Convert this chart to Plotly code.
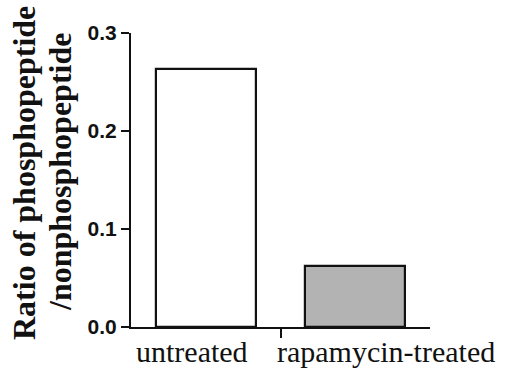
import plotly.graph_objects as go

categories = ["untreated", "rapamycin-treated"]
values = [0.263, 0.062]
bar_colors = ["#ffffff", "#b3b3b3"]
y_ticks = [0.0, 0.1, 0.2, 0.3]
y_tick_labels = ["0.0", "0.1", "0.2", "0.3"]
title_lines = ["Ratio of phosphopeptide", "/nonphosphopeptide"]

xpos = list(range(len(categories)))

fig = go.Figure()
fig.add_trace(go.Bar(
    x=xpos, y=values, width=0.67,
    marker=dict(color=bar_colors, line=dict(color="#111111", width=2.2)),
    showlegend=False, hoverinfo="skip",
))

label_shifts = [-14, 31]
for xi, name, sh in zip(xpos, categories, label_shifts):
    fig.add_annotation(
        x=xi, xref="x", y=0, yref="paper", yanchor="top", yshift=-6,
        xshift=sh, text=name, showarrow=False,
        font=dict(family="Liberation Serif, Times New Roman, serif", size=30, color="#111111"),
    )

for line, xs, ys in zip(title_lines, [-107, -71], [7, 8]):
    fig.add_annotation(
        x=0, xref="paper", y=0.5, yref="paper", xanchor="center", yanchor="middle",
        xshift=xs, yshift=ys, textangle=-90,
        text="<b>%s</b>" % line,
        showarrow=False,
        font=dict(family="Liberation Serif, Times New Roman, serif", size=32, color="#111111"),
    )

fig.update_layout(
    width=510, height=380,
    margin=dict(l=131, r=80, t=33, b=53),
    paper_bgcolor="white", plot_bgcolor="white",
    xaxis=dict(
        range=[-0.5, 1.5], tickvals=[0.5], ticktext=[""],
        ticks="outside", ticklen=9, tickwidth=2, tickcolor="#111111",
        showline=True, linecolor="#111111", linewidth=2.2,
        showgrid=False, zeroline=False, fixedrange=True,
    ),
    yaxis=dict(
        range=[0, 0.3], tickvals=y_ticks, ticktext=y_tick_labels,
        ticks="outside", ticklen=8, tickwidth=2, tickcolor="#111111",
        showline=True, linecolor="#111111", linewidth=2.2,
        showgrid=False, zeroline=False,
        tickfont=dict(family="Liberation Sans, Arial, sans-serif", size=21, color="#111111", weight="bold"),
    ),
    bargap=0,
)

fig.write_html("out.html")
